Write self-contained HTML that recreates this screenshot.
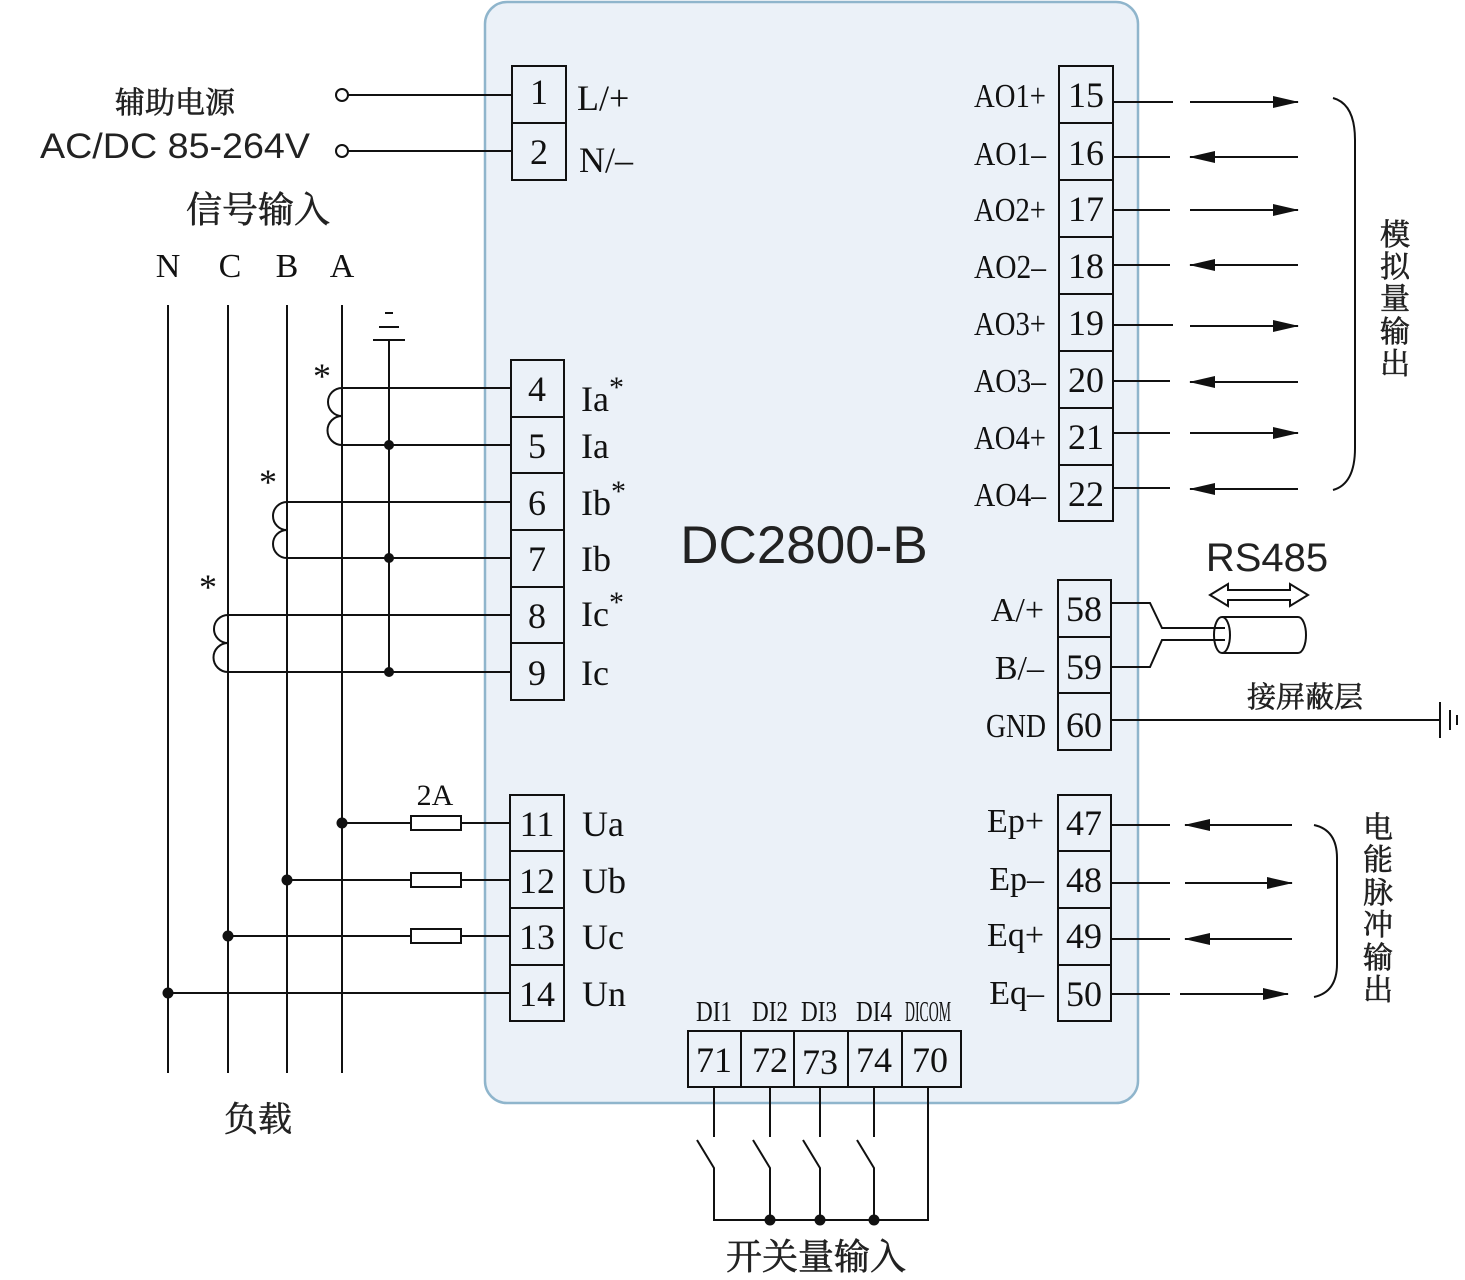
<!DOCTYPE html>
<html><head><meta charset="utf-8"><style>
html,body{margin:0;padding:0;background:#fff;}
svg{display:block;}
.s{font-family:"Liberation Serif","Noto Serif CJK SC",serif;fill:#111;}
.a{font-family:"Liberation Sans","Noto Sans CJK SC",sans-serif;fill:#222;}
.c{font-family:"Liberation Serif","Noto Serif CJK SC",serif;fill:#222;stroke:#222;stroke-width:0.6;}
</style></head><body>
<svg width="1465" height="1280" viewBox="0 0 1465 1280" xmlns="http://www.w3.org/2000/svg">
<defs>
<marker id="ar2" markerWidth="26" markerHeight="14" refX="25" refY="7" orient="auto" markerUnits="userSpaceOnUse"><path d="M0,1 L26,7 L0,13 Z" fill="#111"/></marker>
</defs>
<rect x="485" y="2" width="653" height="1101" rx="22" fill="#ebf1f8" stroke="#8fb5cc" stroke-width="2.5"/>
<g stroke="#111" stroke-width="2" fill="none">
<circle cx="342" cy="95" r="6" fill="#fff"/><circle cx="342" cy="151" r="6" fill="#fff"/>
<line x1="348" y1="95" x2="512" y2="95"/><line x1="348" y1="151" x2="512" y2="151"/>
<rect x="512" y="66" width="54" height="57" fill="#ebf1f8"/><rect x="512" y="123" width="54" height="57" fill="#ebf1f8"/>
<line x1="168" y1="305" x2="168" y2="1073"/><line x1="228" y1="305" x2="228" y2="1073"/>
<line x1="287" y1="305" x2="287" y2="1073"/><line x1="342" y1="305" x2="342" y2="1073"/>
<line x1="389" y1="340" x2="389" y2="672"/>
<line x1="373" y1="340" x2="405" y2="340"/><line x1="379" y1="327" x2="399" y2="327"/><line x1="385" y1="313" x2="393" y2="313"/>
<line x1="342" y1="388" x2="511" y2="388"/><line x1="342" y1="445" x2="511" y2="445"/>
<line x1="287" y1="502" x2="511" y2="502"/><line x1="287" y1="558" x2="511" y2="558"/>
<line x1="228" y1="615" x2="511" y2="615"/><line x1="228" y1="672" x2="511" y2="672"/>
<path d="M342,388 A14,14 0 0 0 342,416 A14,14 0 0 0 342,445"/>
<path d="M287,502 A14,14 0 0 0 287,530 A14,14 0 0 0 287,558"/>
<path d="M228,615 A14,14 0 0 0 228,643 A14,14 0 0 0 228,672"/>
<line x1="342" y1="823" x2="510" y2="823"/><line x1="287" y1="880" x2="510" y2="880"/>
<line x1="228" y1="936" x2="510" y2="936"/><line x1="168" y1="993" x2="510" y2="993"/>
<rect x="411" y="816" width="50" height="14" fill="#fff"/><rect x="411" y="873" width="50" height="14" fill="#fff"/><rect x="411" y="929" width="50" height="14" fill="#fff"/>
<rect x="511" y="360" width="53" height="57" fill="#ebf1f8"/><rect x="511" y="417" width="53" height="56" fill="#ebf1f8"/>
<rect x="511" y="473" width="53" height="57" fill="#ebf1f8"/><rect x="511" y="530" width="53" height="57" fill="#ebf1f8"/>
<rect x="511" y="587" width="53" height="56" fill="#ebf1f8"/><rect x="511" y="643" width="53" height="57" fill="#ebf1f8"/>
<rect x="510" y="795" width="54" height="56" fill="#ebf1f8"/><rect x="510" y="851" width="54" height="57" fill="#ebf1f8"/>
<rect x="510" y="908" width="54" height="57" fill="#ebf1f8"/><rect x="510" y="965" width="54" height="56" fill="#ebf1f8"/>
<line x1="1113" y1="102" x2="1173" y2="102"/><line x1="1113" y1="157" x2="1170" y2="157"/>
<line x1="1113" y1="210" x2="1170" y2="210"/><line x1="1113" y1="265" x2="1170" y2="265"/>
<line x1="1113" y1="325" x2="1173" y2="325"/><line x1="1113" y1="381" x2="1170" y2="381"/>
<line x1="1113" y1="433" x2="1170" y2="433"/><line x1="1113" y1="488" x2="1170" y2="488"/>
<line x1="1190" y1="102" x2="1298" y2="102" marker-end="url(#ar2)"/>
<line x1="1298" y1="157" x2="1190" y2="157" marker-end="url(#ar2)"/>
<line x1="1190" y1="210" x2="1298" y2="210" marker-end="url(#ar2)"/>
<line x1="1298" y1="265" x2="1190" y2="265" marker-end="url(#ar2)"/>
<line x1="1190" y1="326" x2="1298" y2="326" marker-end="url(#ar2)"/>
<line x1="1298" y1="382" x2="1190" y2="382" marker-end="url(#ar2)"/>
<line x1="1190" y1="433" x2="1298" y2="433" marker-end="url(#ar2)"/>
<line x1="1298" y1="489" x2="1190" y2="489" marker-end="url(#ar2)"/>
<rect x="1059" y="66" width="54" height="57" fill="#ebf1f8"/><rect x="1059" y="123" width="54" height="57" fill="#ebf1f8"/>
<rect x="1059" y="180" width="54" height="57" fill="#ebf1f8"/><rect x="1059" y="237" width="54" height="57" fill="#ebf1f8"/>
<rect x="1059" y="294" width="54" height="57" fill="#ebf1f8"/><rect x="1059" y="351" width="54" height="57" fill="#ebf1f8"/>
<rect x="1059" y="408" width="54" height="57" fill="#ebf1f8"/><rect x="1059" y="465" width="54" height="56" fill="#ebf1f8"/>
<path d="M1333,98 Q1355,104 1355,140 L1355,448 Q1355,484 1333,490"/>
<polyline points="1111,603 1150,603 1162,628 1225,628"/>
<polyline points="1111,667 1150,667 1162,640 1225,640"/>
<path d="M1222,617 L1298,617 A8,18 0 0 1 1298,653 L1222,653"/>
<ellipse cx="1222" cy="635" rx="8" ry="18" fill="none"/>
<path d="M1210,595 L1228,584 L1228,590 L1290,590 L1290,584 L1308,595 L1290,606 L1290,600 L1228,600 L1228,606 Z" fill="#fff"/>
<line x1="1111" y1="720" x2="1440" y2="720"/>
<line x1="1440" y1="702" x2="1440" y2="738"/><line x1="1450" y1="710" x2="1450" y2="730"/><line x1="1457" y1="715" x2="1457" y2="725"/>
<rect x="1058" y="580" width="53" height="57" fill="#ebf1f8"/><rect x="1058" y="637" width="53" height="56" fill="#ebf1f8"/><rect x="1058" y="693" width="53" height="57" fill="#ebf1f8"/>
<line x1="1111" y1="825" x2="1170" y2="825"/><line x1="1111" y1="883" x2="1170" y2="883"/>
<line x1="1111" y1="939" x2="1170" y2="939"/><line x1="1111" y1="994" x2="1170" y2="994"/>
<line x1="1292" y1="825" x2="1185" y2="825" marker-end="url(#ar2)"/>
<line x1="1185" y1="883" x2="1292" y2="883" marker-end="url(#ar2)"/>
<line x1="1292" y1="939" x2="1185" y2="939" marker-end="url(#ar2)"/>
<line x1="1180" y1="994" x2="1288" y2="994" marker-end="url(#ar2)"/>
<rect x="1058" y="795" width="53" height="56" fill="#ebf1f8"/><rect x="1058" y="851" width="53" height="57" fill="#ebf1f8"/>
<rect x="1058" y="908" width="53" height="57" fill="#ebf1f8"/><rect x="1058" y="965" width="53" height="56" fill="#ebf1f8"/>
<path d="M1314,825 Q1337,830 1337,858 L1337,964 Q1337,992 1314,997"/>
<rect x="688" y="1031" width="53" height="56" fill="#ebf1f8"/><rect x="741" y="1031" width="53" height="56" fill="#ebf1f8"/>
<rect x="794" y="1031" width="54" height="56" fill="#ebf1f8"/><rect x="848" y="1031" width="54" height="56" fill="#ebf1f8"/>
<rect x="902" y="1031" width="59" height="56" fill="#ebf1f8"/>
<line x1="714" y1="1087" x2="714" y2="1137"/><line x1="770" y1="1087" x2="770" y2="1137"/>
<line x1="820" y1="1087" x2="820" y2="1137"/><line x1="874" y1="1087" x2="874" y2="1137"/>
<polyline points="697,1140 714,1168 714,1220 928,1220 928,1087"/>
<polyline points="753,1140 770,1168 770,1220"/>
<polyline points="803,1140 820,1168 820,1220"/>
<polyline points="857,1140 874,1168 874,1220"/>
</g>
<g fill="#111">
<circle cx="389" cy="445" r="5"/><circle cx="389" cy="558" r="5"/><circle cx="389" cy="672" r="5"/>
<circle cx="342" cy="823" r="5.5"/><circle cx="287" cy="880" r="5.5"/><circle cx="228" cy="936" r="5.5"/><circle cx="168" cy="993" r="5.5"/>
<circle cx="770" cy="1220" r="5.5"/><circle cx="820" cy="1220" r="5.5"/><circle cx="874" cy="1220" r="5.5"/>
</g>
<g class="c" font-size="30" text-anchor="middle">
<text x="175" y="113">辅助电源</text>
<text x="258" y="222" font-size="36">信号输入</text>
<text x="258" y="1131" font-size="34">负载</text>
<text x="816" y="1269" font-size="36">开关量输入</text>
<text x="1305" y="707" font-size="29">接屏蔽层</text>
</g>
<text class="a" x="175" y="158" font-size="35" text-anchor="middle" textLength="270" lengthAdjust="spacingAndGlyphs">AC/DC 85-264V</text>
<text class="a" x="804" y="563" font-size="53" text-anchor="middle">DC2800-B</text>
<text class="a" x="1267" y="571" font-size="40" text-anchor="middle">RS485</text>
<g class="c" font-size="30" text-anchor="middle">
<text x="1395" y="245">模</text><text x="1395" y="277">拟</text><text x="1395" y="309">量</text><text x="1395" y="342">输</text><text x="1395" y="374">出</text>
<text x="1378" y="838">电</text><text x="1378" y="870">能</text><text x="1378" y="903">脉</text><text x="1378" y="935">冲</text><text x="1378" y="968">输</text><text x="1378" y="1000">出</text>
</g>
<g class="s" font-size="34" text-anchor="middle">
<text x="168" y="277">N</text><text x="230" y="277">C</text><text x="287" y="277">B</text><text x="342" y="277">A</text>
<text x="322" y="388" font-size="36">*</text><text x="268" y="494" font-size="36">*</text><text x="208" y="599" font-size="36">*</text>
<text x="435" y="805" font-size="30">2A</text>
</g>
<g class="s" font-size="36" text-anchor="middle">
<text x="539" y="104">1</text><text x="539" y="164">2</text>
<text x="537" y="401">4</text><text x="537" y="458">5</text><text x="537" y="515">6</text><text x="537" y="571">7</text><text x="537" y="628">8</text><text x="537" y="685">9</text>
<text x="537" y="836">11</text><text x="537" y="893">12</text><text x="537" y="949">13</text><text x="537" y="1006">14</text>
<text x="1086" y="107">15</text><text x="1086" y="165">16</text><text x="1086" y="221">17</text><text x="1086" y="278">18</text>
<text x="1086" y="335">19</text><text x="1086" y="392">20</text><text x="1086" y="449">21</text><text x="1086" y="506">22</text>
<text x="1084" y="621">58</text><text x="1084" y="679">59</text><text x="1084" y="737">60</text>
<text x="1084" y="835">47</text><text x="1084" y="892">48</text><text x="1084" y="948">49</text><text x="1084" y="1006">50</text>
<text x="714" y="1072">71</text><text x="770" y="1072">72</text><text x="820" y="1074">73</text><text x="874" y="1072">74</text><text x="930" y="1072">70</text>
</g>
<g class="s" font-size="36">
<text x="577" y="110">L/+</text><text x="579" y="172">N/–</text>
<text x="581" y="411">Ia<tspan font-size="30" dy="-14">*</tspan></text>
<text x="581" y="458">Ia</text>
<text x="581" y="515">Ib<tspan font-size="30" dy="-14">*</tspan></text>
<text x="581" y="571">Ib</text>
<text x="581" y="626">Ic<tspan font-size="30" dy="-14">*</tspan></text>
<text x="581" y="685">Ic</text>
<text x="582" y="836">Ua</text><text x="582" y="893">Ub</text><text x="582" y="949">Uc</text><text x="582" y="1006">Un</text>
</g>
<g class="s" font-size="34" text-anchor="end">
<text x="1046" y="107" textLength="72" lengthAdjust="spacingAndGlyphs">AO1+</text>
<text x="1046" y="165" textLength="72" lengthAdjust="spacingAndGlyphs">AO1–</text>
<text x="1046" y="221" textLength="72" lengthAdjust="spacingAndGlyphs">AO2+</text>
<text x="1046" y="278" textLength="72" lengthAdjust="spacingAndGlyphs">AO2–</text>
<text x="1046" y="335" textLength="72" lengthAdjust="spacingAndGlyphs">AO3+</text>
<text x="1046" y="392" textLength="72" lengthAdjust="spacingAndGlyphs">AO3–</text>
<text x="1046" y="449" textLength="72" lengthAdjust="spacingAndGlyphs">AO4+</text>
<text x="1046" y="506" textLength="72" lengthAdjust="spacingAndGlyphs">AO4–</text>
<text x="1044" y="621">A/+</text><text x="1044" y="679">B/–</text>
<text x="1046" y="737" textLength="60" lengthAdjust="spacingAndGlyphs">GND</text>
<text x="1044" y="832">Ep+</text><text x="1044" y="890">Ep–</text><text x="1044" y="946">Eq+</text><text x="1044" y="1004">Eq–</text>
</g>
<g class="s" font-size="28" text-anchor="middle">
<text x="714" y="1021" textLength="36" lengthAdjust="spacingAndGlyphs">DI1</text>
<text x="770" y="1021" textLength="36" lengthAdjust="spacingAndGlyphs">DI2</text>
<text x="819" y="1021" textLength="36" lengthAdjust="spacingAndGlyphs">DI3</text>
<text x="874" y="1021" textLength="36" lengthAdjust="spacingAndGlyphs">DI4</text>
<text x="928" y="1021" textLength="46" lengthAdjust="spacingAndGlyphs">DICOM</text>
</g>
</svg>
</body></html>
